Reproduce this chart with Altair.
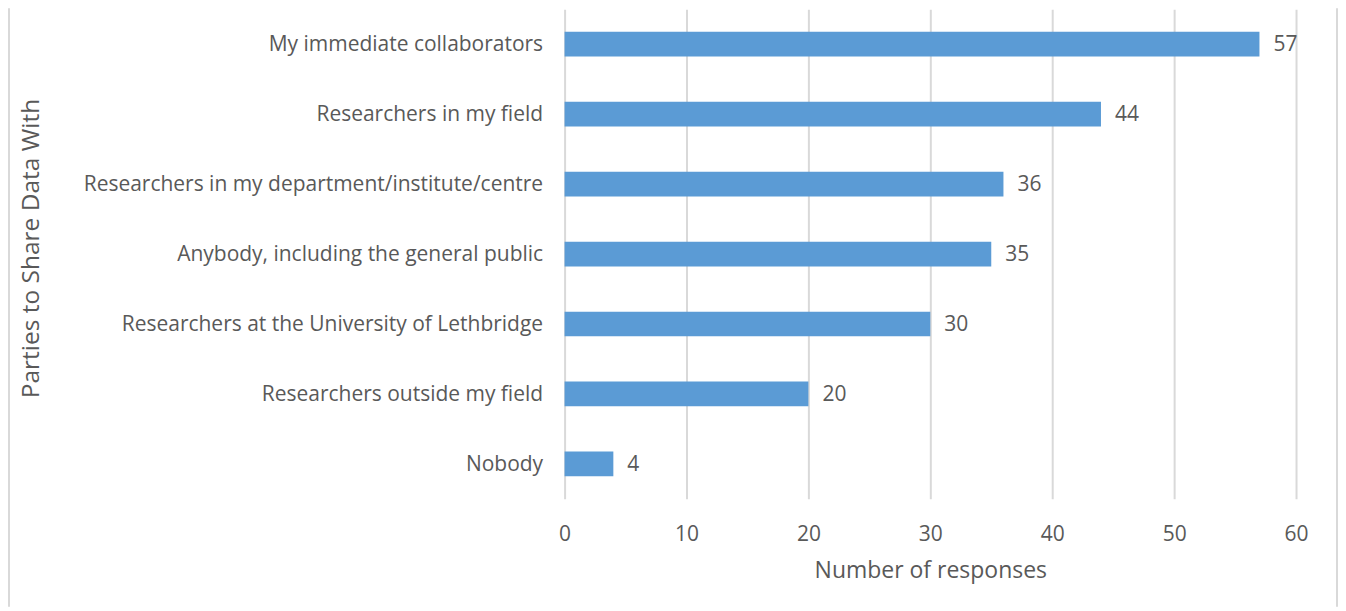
import altair as alt
import pandas as pd

categories = [
    "My immediate collaborators",
    "Researchers in my field",
    "Researchers in my department/institute/centre",
    "Anybody, including the general public",
    "Researchers at the University of Lethbridge",
    "Researchers outside my field",
    "Nobody",
]
values = [57, 44, 36, 35, 30, 20, 4]
x_ticks = [0, 10, 20, 30, 40, 50, 60]

df = pd.DataFrame({"party": categories, "count": values})

FONT = "Open Sans"
GREY = "#595959"
W, H = 732, 490

y_enc = alt.Y(
    "party:N",
    sort=categories,
    title="Parties to Share Data With",
    scale=alt.Scale(paddingInner=0.647, paddingOuter=0.3235),
    axis=alt.Axis(
        domain=False, ticks=False, labelPadding=22, labelFontSize=21, labelOffset=1,
        labelColor=GREY, labelFont=FONT, labelLimit=600,
        titleFont=FONT, titleFontSize=24.5, titleColor=GREY, titleFontWeight="normal",
        titleX=-533, titleY=239, titleAngle=-90, titleAlign="center", titleBaseline="middle",
    ),
)
x_enc = alt.X(
    "count:Q",
    title="Number of responses",
    scale=alt.Scale(domain=[0, 60], nice=False),
    axis=alt.Axis(
        values=x_ticks, domain=False, ticks=False, grid=True, labelFlush=False,
        gridColor="#d9d9d9", gridWidth=2, labelPadding=25, labelFontSize=21,
        labelColor=GREY, labelFont=FONT,
        titleFont=FONT, titleFontSize=23, titleColor=GREY, titleFontWeight="normal",
        titlePadding=15,
    ),
)

bars = alt.Chart(df).mark_bar(color="#5b9bd5").encode(x=x_enc, y=y_enc)
labels = alt.Chart(df).mark_text(
    align="left", baseline="middle", dx=14, dy=1, font=FONT, fontSize=21, color=GREY
).encode(x="count:Q", y=alt.Y("party:N", sort=categories), text="count:Q")

frame_df = pd.DataFrame({"side": ["left", "right"]})
left_border = alt.Chart(frame_df.iloc[:1]).mark_rule(color="#d9d9d9", strokeWidth=2).encode(
    x=alt.value(-556), y=alt.value(-1), y2=alt.value(H + 108)
)
right_border = alt.Chart(frame_df.iloc[1:]).mark_rule(color="#d9d9d9", strokeWidth=2).encode(
    x=alt.value(W + 41), y=alt.value(-1), y2=alt.value(H + 108)
)

chart = (
    alt.layer(bars, labels, left_border, right_border)
    .properties(
        width=W, height=H,
        autosize=alt.AutoSizeParams(type="none"),
        padding={"left": 557, "top": 1, "right": 42, "bottom": 109},
        background="white",
    )
    .configure_view(stroke=None)
)

chart.save("out.html", embed_options={"renderer": "svg", "actions": False})
